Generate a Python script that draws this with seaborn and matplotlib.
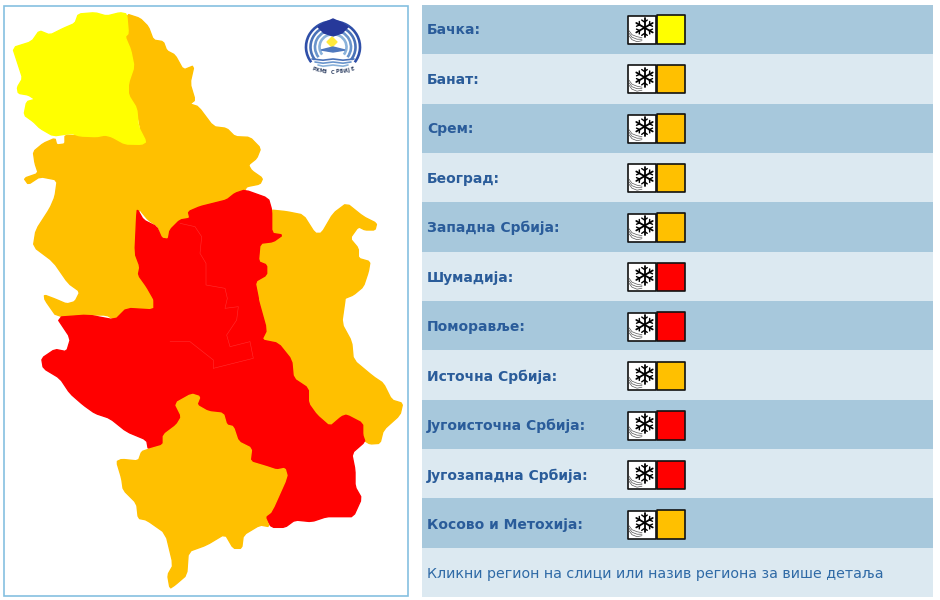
import numpy as np
import pandas as pd
import seaborn as sns
import matplotlib
matplotlib.use('Agg')
import matplotlib.pyplot as plt
from matplotlib.colors import ListedColormap
from matplotlib.patches import Arc, Rectangle, Polygon

regions = ['Бачка:', 'Банат:', 'Срем:', 'Београд:', 'Западна Србија:', 'Шумадија:', 'Поморавље:',
           'Источна Србија:', 'Југоисточна Србија:', 'Југозападна Србија:', 'Косово и Метохија:']
levels = [1, 2, 2, 2, 2, 3, 3, 2, 3, 3, 2]
footer = 'Кликни регион на слици или назив региона за више детаља'
level_colors = {1: '#ffff00', 2: '#ffc000', 3: '#ff0000'}
logo_letters = list('РХМЗ СРБИЈЕ')

# map outlines at 3x (top half, then bottom half)
backa_top = [(38,143),(95,125),(118,92),(150,105),(190,85),(225,70),(235,42),(285,38),(320,48),(360,38),(380,42),
             (385,100),(375,110),(392,150),(402,200),(385,250),(385,285),(410,325),(415,380),(438,425),(425,433),
             (375,432),(335,410),(315,405),(290,410),(240,408),(215,400),(160,408),(120,385),(100,365),(72,345),
             (80,305),(105,298),(85,285),(55,280),(52,262),(68,235),(55,195)]
banat_top = [(380,42),(420,55),(445,80),(460,120),(490,125),(500,152),(525,165),(550,210),(582,197),(570,250),
             (585,300),(570,312),(595,320),(640,380),(680,385),(705,410),(750,412),(782,445),(770,475),(745,495),
             (755,512),(788,535),(780,552),(740,560),(735,570),(705,580),(680,600),(640,610),(600,620),(565,635),
             (570,655),(540,660),(510,690),(505,718),(485,715),(475,680),(445,660),(420,630),(430,430),(410,325),
             (385,285),(385,250),(402,200),(392,150),(375,110),(385,100)]
west_top = [(195,405),(240,408),(290,410),(315,405),(335,410),(375,432),(438,430),(450,640),(420,630),(410,640),
            (405,760),(420,800),(415,825),(445,870),(460,900)]
west_bot = [(462,30),(380,25),(345,60),(320,45),(265,45),(170,50),(135,0)]
west_top2 = [(133,885),(165,897),(200,912),(225,905),(240,875),(205,850),(160,785),(100,740),(108,690),(150,625),
             (165,590),(172,540),(120,530),(85,553),(72,535),(115,520),(105,490),(100,455),(130,430),(165,415),
             (170,435),(195,432)]
east_top = [(812,630),(860,635),(910,645),(945,700),(965,700),(1000,640),(1040,610),(1090,650),(1130,670),(1125,690),
            (1095,690),(1075,680),(1050,715),(1075,745),(1075,775),(1110,785),(1105,815),(1090,860),(1060,885),(1035,895)]
east_bot = [(1035,0),(1025,70),(1055,125),(1060,180),(1120,230),(1150,250),(1175,300),(1208,310),(1200,345),(1150,390),
            (1140,430),(1110,432),(1090,420),(1085,370),(1040,345),(1025,350),(990,380),(950,345),(925,310),(925,265),
            (880,235),(875,180),(835,130),(785,120),(800,90),(775,0)]
east_top2 = [(775,890),(765,845),(800,825),(795,790),(775,785),(780,730),(820,720),(845,710),(815,700),(815,640)]
red_top = [(735,570),(805,595),(815,630),(815,700),(848,705),(820,725),(780,730),(775,785),(800,795),(800,825),(765,845),(775,895)]
red_bot = [(775,0),(800,90),(785,120),(835,130),(875,180),(880,235),(925,265),(925,310),(950,345),(990,380),(1025,350),
           (1040,345),(1088,370),(1088,405),(1095,425),(1055,460),(1065,510),(1065,560),(1085,595),(1060,650),(1020,650),
           (980,650),(935,665),(885,660),(855,682),(815,682),(795,650),(815,635),(862,530),(855,505),(830,510),(800,500),
           (750,485),(755,445),(715,425),(700,380),(680,375),(670,340),(625,335),(590,315),(600,290),(575,282),(525,310),
           (545,350),(530,375),(490,405),(490,435),(445,448),(440,420),(380,395),(330,355),(285,340),(250,315),(210,280),
           (180,235),(130,205),(125,175),(165,148),(200,155),(212,115),(170,52),(265,45),(345,60),(380,25),(462,30),(462,0)]
red_top2 = [(460,895),(440,860),(415,825),(420,800),(405,760),(410,650),(412,628),(430,660),(470,680),(485,715),(505,718),
            (510,690),(540,660),(570,655),(565,635),(600,620),(640,610),(680,600),(705,580)]
kosovo_bot = [(575,282),(600,290),(590,315),(625,335),(670,340),(680,375),(700,380),(715,425),(755,445),(750,485),(800,500),
              (830,510),(855,505),(862,530),(815,635),(795,650),(808,680),(780,675),(730,705),(725,745),(700,745),(675,702),
              (620,735),(565,755),(560,825),(525,855),(510,865),(503,825),(520,795),(497,700),(440,660),(415,655),(410,610),
              (370,570),(365,535),(350,485),(365,478),(415,483),(425,455),(445,448),(490,435),(490,405),(530,375),(545,350),(525,310)]
inner_top = [(540,670),(585,680),(605,710),(600,760),(618,790),(618,855),(675,865),(682,895)]
inner_bot = [(675,25),(715,20),(710,60),(680,105),(690,140),(750,125)]
inner_bot2 = [(750,125),(760,175),(640,205)]
inner_bot3 = [(510,125),(570,125),(640,180),(640,205)]


def top(pts):
    return [(x / 3, y / 3) for x, y in pts]


def bot(pts):
    return [(x / 3, 300 + y / 3) for x, y in pts]


def round_corners(pts):
    # one pass of corner cutting, the source outlines are only slightly soft
    p = np.array(pts, dtype=float)
    q = np.roll(p, -1, axis=0)
    return np.column_stack([0.85 * p + 0.15 * q, 0.15 * p + 0.85 * q]).reshape(-1, 2)


def draw_flake(ax, cx, cy, r=9.5):
    for ang in (90, 30, -30):
        a = np.deg2rad(ang)
        ux, uy = np.cos(a), np.sin(a)
        ax.plot([cx - r * ux, cx + r * ux], [cy - r * uy, cy + r * uy], color='black', lw=1.3,
                solid_capstyle='round', zorder=5)
        for s in (-1, 1):
            bx, by = cx + s * 0.6 * r * ux, cy + s * 0.6 * r * uy
            for t in (-55, 55):
                b = np.deg2rad(ang + t)
                ex, ey = s * 0.36 * r * np.cos(b), s * 0.36 * r * np.sin(b)
                ax.plot([bx, bx + ex], [by, by + ey], color='black', lw=1.0, zorder=5)


sns.set_theme(style='white')
fig = plt.figure(figsize=(9.4, 6.0), dpi=100, facecolor='white')

# table bands
ax_tbl = fig.add_axes([422 / 940, 1 - 597 / 600, 511 / 940, 592 / 600])
bands = pd.DataFrame({'band': [i % 2 for i in range(len(regions) + 1)]})
sns.heatmap(bands, ax=ax_tbl, cbar=False, xticklabels=False, yticklabels=False,
            cmap=ListedColormap(['#a7c8dc', '#dce9f1']))

# everything else in pixel coordinates
ax = fig.add_axes([0, 0, 1, 1], facecolor='none')
ax.set_xlim(0, 940)
ax.set_ylim(600, 0)
ax.axis('off')

ax.add_patch(Rectangle((3.5, 5.5), 404.5, 590, fc='white', ec='#85c0e0', lw=1.2, zorder=1))

shapes = [
    (top(west_top) + bot(west_bot) + top(west_top2), levels[4]),
    (top(banat_top), levels[1]),
    (top(backa_top), levels[0]),
    (top(east_top) + bot(east_bot) + top(east_top2), levels[7]),
    (top(red_top) + bot(red_bot) + top(red_top2), levels[5]),
    (bot(kosovo_bot), levels[10]),
]
for pts, lvl in shapes:
    c = level_colors[lvl]
    ax.add_patch(Polygon(round_corners(pts), closed=True, fc=c, ec=c, lw=1.0, joinstyle='round', zorder=2))

for line in [top(inner_top) + bot(inner_bot), bot(inner_bot2), bot(inner_bot3)]:
    ax.plot(*zip(*line), color='#ff3030', lw=0.4, zorder=3)

# logo
logo_blues = ['#2f4fa8', '#4a72b8', '#6a95cc', '#8ab2da']
for i, col in enumerate(logo_blues):
    d = 54 - i * 9
    ax.add_patch(Arc((333, 47), d, d * 0.95, theta1=145, theta2=395, ec=col, lw=1.9, zorder=3))
for i, y in enumerate([59, 62, 65]):
    xs = np.array([312, 323, 333, 343, 354]) + np.array([i * 3, 0, 0, 0, -i * 3])
    ys = y + np.array([0, 1.2, 0, 1.2, 0])
    ax.plot(xs, ys, color=logo_blues[min(i + 1, 3)], lw=1.2, zorder=3)
ax.fill([318, 324, 333, 342, 348, 342, 333, 324], [27, 23, 19, 23, 27, 33, 36, 33], color='#26399a', zorder=4)
ax.fill([332, 337, 332, 327], [37, 42, 47, 42], color='#ffe93b', zorder=4)
ax.fill([321, 333, 345, 333], [50, 47, 50, 52], color='#4f78bd', zorder=4)
for i, ch in enumerate(logo_letters):
    a = np.deg2rad((i - 5) * 3.8)
    ax.text(333 + 60 * np.sin(a), 12 + 60 * np.cos(a), ch, fontsize=3.6, fontweight='bold',
            color='#334466', ha='center', va='center', rotation=np.rad2deg(a), zorder=4)

# warning rows
row_y = [29.7 + 49.5 * i for i in range(len(regions))]
df = pd.DataFrame({'region': regions, 'level': levels, 'y': row_y})
df['swatch_x'] = 671.0
df['icon_x'] = 641.5
sns.scatterplot(data=df, x='icon_x', y='y', ax=ax, marker='s', s=420, color='white',
                edgecolor='#111111', linewidth=1.2, legend=False, zorder=4)
sns.scatterplot(data=df, x='swatch_x', y='y', hue='level', palette=level_colors, ax=ax, marker='s', s=420,
                edgecolor='#111111', linewidth=1.2, legend=False, zorder=4)
ax.set_xlim(0, 940)
ax.set_ylim(600, 0)
ax.axis('off')

for name, y in zip(regions, row_y):
    ax.text(427, y + 0.5, name, fontsize=10, fontweight='bold', color='#2a5c9a', va='center', ha='left', zorder=5)
    draw_flake(ax, 644.5, y - 2)
    for dy in (0, 2.5, 5):
        ax.plot([629, 632, 637, 642], [y + 1 + dy, y + 5 + dy, y + 7 + dy, y + 8 + dy * 0.6],
                color='#555555', lw=0.5, zorder=4.5)

ax.text(427, 574, footer, fontsize=10.3, color='#2f6aa6', va='center', ha='left', zorder=5)

fig.savefig('out.png', dpi=100)
